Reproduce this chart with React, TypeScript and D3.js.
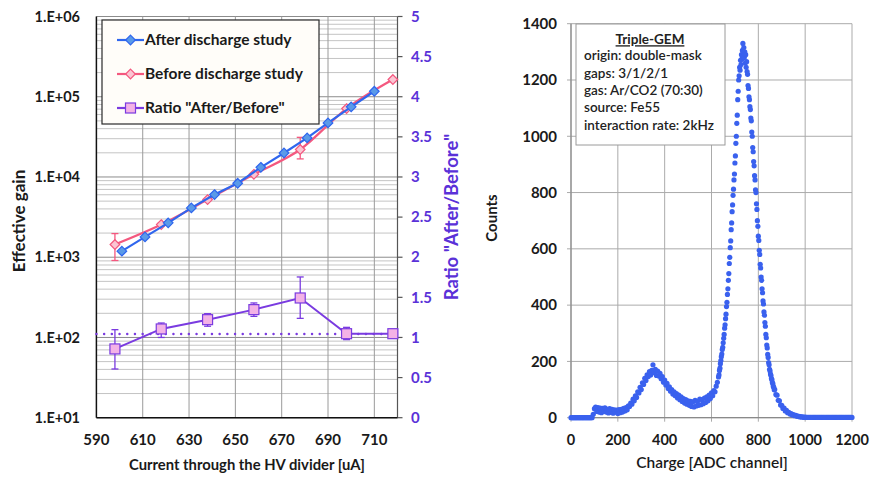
import React from "react";
import * as d3 from "d3";

// ---------- Left chart data ----------
const afterCurrent = [601, 611, 621, 631, 641, 651, 661, 671, 681, 690, 700, 710];
const afterGain = [1190, 1790, 2680, 4120, 6040, 8350, 13200, 19900, 30700, 47200, 74800, 117000];

const beforeCurrent = [598, 618, 638, 658, 678, 698, 718];
const beforeGain = [1440, 2550, 5230, 10800, 22000, 71300, 164000];
const beforeGainLow = [910, 2450, 5050, 10400, 16800, 69000, 159000];
const beforeGainHigh = [1970, 2650, 5400, 11200, 31200, 73500, 169000];

const ratioValues = [0.857, 1.106, 1.222, 1.347, 1.492, 1.047, 1.047];
const ratioLow = [0.607, 1.0, 1.14, 1.263, 1.238, 0.973, 0.99];
const ratioHigh = [1.097, 1.18, 1.297, 1.43, 1.754, 1.126, 1.09];
const ratioMean = 1.044;

const currentTicks = [590, 610, 630, 650, 670, 690, 710];
const ratioTicks = [0, 0.5, 1, 1.5, 2, 2.5, 3, 3.5, 4, 4.5, 5];
const gainDecades = [10, 100, 1000, 10000, 100000, 1000000];

const legendLabels = ["After discharge study", "Before discharge study", 'Ratio "After/Before"'];

// ---------- Right chart data (Fe55 spectrum) ----------
const spectrumLowStart = 0;
const spectrumLowStep = 5;
const spectrumLow = [
  0, 0, 0, 0, 0, 0, 0, 0, 0, 0, 0, 0, 0, 0, 0, 0, 0, 0, 0,
  12, 32, 38, 22, 36, 20, 34, 18, 33, 22, 35, 20, 30, 17, 32, 19, 30, 16, 28, 20,
  27, 15, 29, 18, 30, 20, 33, 24, 36, 28, 42,
  40, 52, 48, 66, 60, 78, 72, 92, 88, 108, 100, 124, 118, 140, 132, 152, 146, 164, 152, 168,
  188, 160, 172, 150, 166, 148, 158, 138, 146, 126, 134, 116, 122, 104, 110, 94, 100, 84, 92, 78,
  86, 70, 80, 64, 74, 58, 68, 52, 64, 48, 60, 44, 58, 40, 56, 38, 62, 42, 58, 44,
  66, 46, 64, 50, 70, 54, 74, 60, 80, 68, 88, 78, 96, 92, 112, 126,
];
const spectrumPeakStart = 630;
const spectrumPeakStep = 2;
const spectrumPeak = [
  145, 152, 168, 176, 192, 203, 217, 226, 242, 250, 266, 282, 296, 318, 330, 352, 368, 395, 410, 438,
  458, 488, 512, 548, 570, 604, 628, 668, 692, 732, 756, 790, 812, 845, 866, 905, 930, 975, 1000, 1046,
  1075, 1130, 1160, 1200, 1215, 1245, 1235, 1270, 1255, 1290, 1275, 1305, 1330, 1295, 1315, 1280, 1300, 1260, 1290, 1245,
  1265, 1230, 1220, 1180, 1170, 1140, 1130, 1105, 1095, 1065, 1055, 1015, 1000, 960, 945, 910, 895, 860, 845, 810,
  800, 760, 740, 700, 680, 645, 630, 595, 580, 545, 532, 500, 488, 458, 444, 415, 404, 376, 364, 338,
  325, 296, 284, 258, 248, 225, 214, 196, 188, 172, 166, 155, 150, 139, 135, 125, 121, 111, 108, 99,
];
const spectrumTailStart = 870;
const spectrumTailStep = 5;
const spectrumTail = [
  100, 82, 80, 62, 60, 45, 44, 33, 34, 24, 26, 18, 19, 13, 15, 10, 11, 7, 8, 5,
  6, 3, 4, 2, 3, 1, 2, 1, 1, 1, 1, 1, 1, 1, 1, 1, 1, 1, 1, 1,
  1, 1, 1, 1, 1, 1, 1, 1, 1, 1, 1, 1, 1, 1, 1, 1, 1, 1, 1, 1,
  1, 1, 1, 1, 1, 1, 1,
];
const chargeTicks = [0, 200, 400, 600, 800, 1000, 1200];
const countTicks = [0, 200, 400, 600, 800, 1000, 1200, 1400];
const infoTitle = "Triple-GEM";
const infoLines = [
  "origin: double-mask",
  "gaps: 3/1/2/1",
  "gas: Ar/CO2 (70:30)",
  "source: Fe55",
  "interaction rate: 2kHz",
];

const W = 871;
const H = 478;
const FONT = "Lato, 'Open Sans', 'DejaVu Sans', sans-serif";

const BLUE = "#2f66ee";
const BLUE_FILL = "#5a9ae8";
const PINK = "#f4587f";
const PINK_FILL = "#fbc5d3";
const PURPLE = "#7a3be0";
const SQUARE_FILL = "#f3b2e6";
const AXIS_PURPLE = "#5a31d8";
const SPEC = "#3a61ee";

function diamond(cx: number, cy: number, r: number) {
  return `M${cx},${cy - r}L${cx + r},${cy}L${cx},${cy + r}L${cx - r},${cy}Z`;
}

function buildSpectrum() {
  const pts: [number, number][] = [];
  spectrumLow.forEach((c, i) => pts.push([spectrumLowStart + i * spectrumLowStep, c]));
  spectrumPeak.forEach((c, i) => pts.push([spectrumPeakStart + i * spectrumPeakStep, c]));
  spectrumTail.forEach((c, i) => pts.push([spectrumTailStart + i * spectrumTailStep, c]));
  return pts;
}

export default function App() {
  // Left chart scales
  const xL = d3.scaleLinear().domain([590, 720]).range([96.4, 397.5]);
  const yL = d3.scaleLog().domain([10, 1e6]).range([417.7, 16.5]);
  const yR = d3.scaleLinear().domain([0, 5]).range([417.7, 16.5]);

  // Right chart scales
  const xS = d3.scaleLinear().domain([0, 1200]).range([571, 852]);
  const yS = d3.scaleLinear().domain([0, 1400]).range([417.7, 23.7]);

  const minorGain: number[] = [];
  for (let d = 10; d < 1e6; d *= 10) {
    for (let m = 2; m <= 9; m++) minorGain.push(m * d);
  }

  const afterLine = d3
    .line<number>()
    .x((_, i) => xL(afterCurrent[i]))
    .y((v) => yL(v));
  const beforeLine = d3
    .line<number>()
    .curve(d3.curveMonotoneX)
    .x((_, i) => xL(beforeCurrent[i]))
    .y((v) => yL(v));
  const ratioLine = d3
    .line<number>()
    .x((_, i) => xL(beforeCurrent[i]))
    .y((v) => yR(v));

  const spectrum = buildSpectrum();
  const fmtExp = (v: number) => `1.E+${String(Math.round(Math.log10(v))).padStart(2, "0")}`;

  const legendY = [40, 74, 108];

  return (
    <svg
      width={W}
      height={H}
      viewBox={`0 0 ${W} ${H}`}
      style={{ position: "absolute", left: 0, top: 0, background: "#fff" }}
      fontFamily={FONT}
    >
      <rect x={0} y={0} width={W} height={H} fill="#fff" />

      {/* ================= LEFT CHART ================= */}
      {minorGain.map((v) => (
        <line key={"mg" + v} x1={xL(590)} x2={xL(720)} y1={yL(v)} y2={yL(v)} stroke="#c4c4c4" strokeWidth={1} />
      ))}
      {gainDecades.map((v) => (
        <line key={"dg" + v} x1={xL(590)} x2={xL(720)} y1={yL(v)} y2={yL(v)} stroke="#8c8c8c" strokeWidth={1} />
      ))}
      {currentTicks.slice(1).map((v) => (
        <line key={"vg" + v} x1={xL(v)} x2={xL(v)} y1={yL(1e6)} y2={yL(10)} stroke="#9a9a9a" strokeWidth={1} />
      ))}
      <line x1={xL(720)} x2={xL(720)} y1={yR(5)} y2={yR(0)} stroke="#555" strokeWidth={1.2} />
      {ratioTicks.map((v) => (
        <line key={"rt" + v} x1={xL(720)} x2={xL(720) + 5} y1={yR(v)} y2={yR(v)} stroke="#555" strokeWidth={1.2} />
      ))}
      <line x1={xL(590)} x2={xL(590)} y1={yL(1e6)} y2={yL(10)} stroke="#111" strokeWidth={1.5} />
      <line x1={xL(590)} x2={xL(720)} y1={yL(10)} y2={yL(10)} stroke="#111" strokeWidth={1.5} />

      {gainDecades.map((v) => (
        <text key={"gl" + v} x={80} y={yL(v)} dy="0.35em" textAnchor="end" fontSize={14.5} fontWeight="bold" fill="#1a1a1a">
          {fmtExp(v)}
        </text>
      ))}
      {ratioTicks.map((v) => (
        <text key={"rl" + v} x={411} y={yR(v)} dy="0.35em" textAnchor="start" fontSize={15} fontWeight="bold" fill={AXIS_PURPLE}>
          {d3.format("~g")(v)}
        </text>
      ))}
      {currentTicks.map((v) => (
        <text key={"xl" + v} x={xL(v)} y={440} dy="0.35em" textAnchor="middle" fontSize={15} fontWeight="bold" fill="#1a1a1a">
          {v}
        </text>
      ))}
      <text x={247} y={465} dy="0.35em" textAnchor="middle" fontSize={14.8} fontWeight="bold" fill="#1a1a1a">
        Current through the HV divider [uA]
      </text>
      <text
        transform={`translate(19,221) rotate(-90)`}
        textAnchor="middle"
        dy="0.35em"
        fontSize={17}
        fontWeight="bold"
        fill="#1a1a1a"
      >
        Effective gain
      </text>
      <text
        transform={`translate(452,217) rotate(-90)`}
        textAnchor="middle"
        dy="0.35em"
        fontSize={18.5}
        fontWeight="bold"
        fill={AXIS_PURPLE}
      >
        Ratio "After/Before"
      </text>

      <line
        x1={xL(590)}
        x2={xL(720)}
        y1={yR(ratioMean)}
        y2={yR(ratioMean)}
        stroke={PURPLE}
        strokeWidth={2.4}
        strokeDasharray="0.1 7.6"
        strokeLinecap="round"
      />

      {ratioValues.map((v, i) => (
        <g key={"re" + i} stroke={PURPLE} strokeWidth={1.3}>
          <line x1={xL(beforeCurrent[i])} x2={xL(beforeCurrent[i])} y1={yR(ratioLow[i])} y2={yR(ratioHigh[i])} />
          <line x1={xL(beforeCurrent[i]) - 3.5} x2={xL(beforeCurrent[i]) + 3.5} y1={yR(ratioLow[i])} y2={yR(ratioLow[i])} />
          <line x1={xL(beforeCurrent[i]) - 3.5} x2={xL(beforeCurrent[i]) + 3.5} y1={yR(ratioHigh[i])} y2={yR(ratioHigh[i])} />
        </g>
      ))}
      <path d={ratioLine(ratioValues) || ""} fill="none" stroke={PURPLE} strokeWidth={2} />
      {ratioValues.map((v, i) => (
        <rect
          key={"rs" + i}
          x={xL(beforeCurrent[i]) - 5}
          y={yR(v) - 5}
          width={10}
          height={10}
          fill={SQUARE_FILL}
          stroke={PURPLE}
          strokeWidth={1.2}
        />
      ))}

      {beforeGain.map((v, i) => (
        <g key={"be" + i} stroke={PINK} strokeWidth={1.3}>
          <line x1={xL(beforeCurrent[i])} x2={xL(beforeCurrent[i])} y1={yL(beforeGainLow[i])} y2={yL(beforeGainHigh[i])} />
          <line x1={xL(beforeCurrent[i]) - 3.5} x2={xL(beforeCurrent[i]) + 3.5} y1={yL(beforeGainLow[i])} y2={yL(beforeGainLow[i])} />
          <line x1={xL(beforeCurrent[i]) - 3.5} x2={xL(beforeCurrent[i]) + 3.5} y1={yL(beforeGainHigh[i])} y2={yL(beforeGainHigh[i])} />
        </g>
      ))}
      <path d={beforeLine(beforeGain) || ""} fill="none" stroke={PINK} strokeWidth={2.2} />
      {beforeGain.map((v, i) => (
        <path key={"bd" + i} d={diamond(xL(beforeCurrent[i]), yL(v), 4.8)} fill={PINK_FILL} stroke={PINK} strokeWidth={1.2} />
      ))}

      <path d={afterLine(afterGain) || ""} fill="none" stroke={BLUE} strokeWidth={2.2} />
      {afterGain.map((v, i) => (
        <path key={"ad" + i} d={diamond(xL(afterCurrent[i]), yL(v), 4.8)} fill={BLUE_FILL} stroke={BLUE} strokeWidth={1.2} />
      ))}

      <rect x={102} y={20} width={217} height={104} fill="#fffdf9" stroke="#2a2a2a" strokeWidth={1.2} />
      {legendLabels.map((label, i) => (
        <g key={"lg" + i}>
          <line
            x1={117}
            x2={144}
            y1={legendY[i]}
            y2={legendY[i]}
            stroke={i === 0 ? BLUE : i === 1 ? PINK : PURPLE}
            strokeWidth={2.2}
          />
          {i < 2 ? (
            <path
              d={diamond(130.5, legendY[i], 4.8)}
              fill={i === 0 ? BLUE_FILL : PINK_FILL}
              stroke={i === 0 ? BLUE : PINK}
              strokeWidth={1.2}
            />
          ) : (
            <rect x={125.5} y={legendY[i] - 5} width={10} height={10} fill={SQUARE_FILL} stroke={PURPLE} strokeWidth={1.2} />
          )}
          <text x={145} y={legendY[i]} dy="0.35em" fontSize={15.5} fontWeight="bold" fill="#1a1a1a">
            {label}
          </text>
        </g>
      ))}

      {/* ================= RIGHT CHART ================= */}
      {countTicks.map((v) => (
        <line key={"cg" + v} x1={xS(0) - 4} x2={xS(1200)} y1={yS(v)} y2={yS(v)} stroke="#ababab" strokeWidth={1} />
      ))}
      {chargeTicks.map((v) => (
        <line key={"chg" + v} x1={xS(v)} x2={xS(v)} y1={yS(1400)} y2={yS(0) + 4} stroke="#ababab" strokeWidth={1} />
      ))}
      <line x1={xS(0)} x2={xS(0)} y1={yS(1400)} y2={yS(0)} stroke="#8a8a8a" strokeWidth={1.2} />
      <line x1={xS(0)} x2={xS(1200)} y1={yS(0)} y2={yS(0)} stroke="#8a8a8a" strokeWidth={1.2} />

      {countTicks.map((v) => (
        <text key={"cl" + v} x={557} y={yS(v)} dy="0.35em" textAnchor="end" fontSize={15} fontWeight="bold" fill="#1a1a1a">
          {v}
        </text>
      ))}
      {chargeTicks.map((v) => (
        <text key={"chl" + v} x={xS(v)} y={440} dy="0.35em" textAnchor="middle" fontSize={14.5} fontWeight="bold" fill="#1a1a1a">
          {v}
        </text>
      ))}
      <text x={712} y={463} dy="0.35em" textAnchor="middle" fontSize={15.5} fill="#1a1a1a" fontWeight={600}>
        Charge [ADC channel]
      </text>
      <text transform="translate(492,218) rotate(-90)" textAnchor="middle" dy="0.35em" fontSize={15} fontWeight="bold" fill="#1a1a1a">
        Counts
      </text>

      {spectrum.map(([ch, c], i) => (
        <circle key={"sp" + i} cx={xS(ch)} cy={yS(c)} r={2.6} fill={SPEC} />
      ))}

      <rect x={576} y={24} width={149} height={121} fill="#fff" stroke="#9a9a9a" strokeWidth={1} />
      <text x={650} y={39.5} dy="0.35em" textAnchor="middle" fontSize={13.5} fontWeight="bold" fill="#222" textDecoration="underline">
        {infoTitle}
      </text>
      {infoLines.map((t, i) => (
        <text key={"il" + i} x={584} y={55.5 + i * 17.4} dy="0.35em" fontSize={13.5} fill="#222" fontWeight={600}>
          {t}
        </text>
      ))}
    </svg>
  );
}
